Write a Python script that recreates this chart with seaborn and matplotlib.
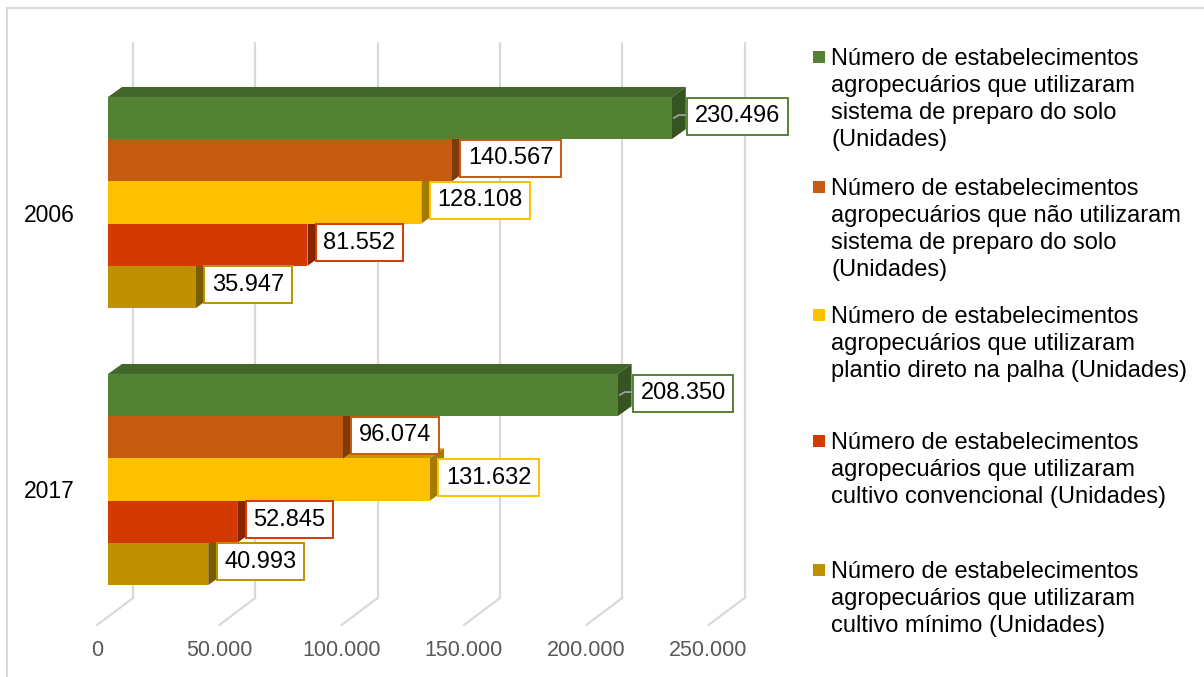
import matplotlib
matplotlib.use("Agg")
import matplotlib.pyplot as plt
import seaborn as sns
import pandas as pd
from matplotlib.transforms import ScaledTranslation
from matplotlib.patches import Polygon, Rectangle
from matplotlib.lines import Line2D
from matplotlib.colors import to_rgb

# ---------------- data ----------------
years = ["2006", "2017"]
series = [
    "Número de estabelecimentos\nagropecuários que utilizaram\nsistema de preparo do solo\n(Unidades)",
    "Número de estabelecimentos\nagropecuários que não utilizaram\nsistema de preparo do solo\n(Unidades)",
    "Número de estabelecimentos\nagropecuários que utilizaram\nplantio direto na palha (Unidades)",
    "Número de estabelecimentos\nagropecuários que utilizaram\ncultivo convencional (Unidades)",
    "Número de estabelecimentos\nagropecuários que utilizaram\ncultivo mínimo (Unidades)",
]
values_2006 = [230496, 140567, 128108, 81552, 35947]
values_2017 = [208350, 96074, 131632, 52845, 40993]
colors = ["#548235", "#C55A11", "#FFC000", "#D33A02", "#BF9000"]
xticks = [0, 50000, 100000, 150000, 200000, 250000]
xtick_labels = ["0", "50.000", "100.000", "150.000", "200.000", "250.000"]

rows = []
for s, v06, v17 in zip(series, values_2006, values_2017):
    rows.append({"Ano": years[0], "Série": s, "Valor": v06})
    rows.append({"Ano": years[1], "Série": s, "Valor": v17})
df = pd.DataFrame(rows)

# ---------------- figure ----------------
sns.set_style("white")
plt.rcParams["font.family"] = ["Liberation Sans", "DejaVu Sans"]

W, H = 1204, 677
fig = plt.figure(figsize=(W / 100, H / 100), dpi=100)
ax_l, ax_r, ax_t, ax_b = 108, 760, 43, 598
ax = fig.add_axes([ax_l / W, (H - ax_b) / H, (ax_r - ax_l) / W, (ax_b - ax_t) / H])

sns.barplot(data=df, y="Ano", x="Valor", hue="Série", order=years,
            hue_order=series, palette=colors, orient="h", width=0.762,
            saturation=1, errorbar=None, legend=False, linewidth=0, ax=ax)

px_per_unit = 122.3 / 50000
XMAX = (ax_r - ax_l) / px_per_unit
ax.set_xlim(0, XMAX)
cat_px = 277.0
ylim_top = (ax_t - 202.5) / cat_px
ylim_bot = (ax_b - 202.5) / cat_px
ax.set_ylim(ylim_bot, ylim_top)

for sp in ax.spines.values():
    sp.set_visible(False)
ax.set_xlabel("")
ax.set_ylabel("")
ax.grid(False)

# depth of the 3D effect
dx_px, dy_px = 14, 10
ddx = dx_px / px_per_unit
ddy = dy_px / cat_px
unit_per_px = 1 / px_per_unit

def shade(c, f):
    r, g, b = to_rgb(c)
    return (r * f, g * f, b * f)

bars = [p for p in ax.patches if isinstance(p, Rectangle)]
bars_sorted = sorted(bars, key=lambda p: -(p.get_y() + p.get_height() / 2))
for i, p in enumerate(bars_sorted):
    z = 2 + i * 0.1
    x0, y0, w, h = p.get_x(), p.get_y(), p.get_width(), p.get_height()
    fc = p.get_facecolor()
    p.set_zorder(z + 0.05)
    top = Polygon([(x0, y0), (x0 + w, y0), (x0 + w + ddx, y0 - ddy), (x0 + ddx, y0 - ddy)],
                  closed=True, facecolor=shade(fc, 0.78), edgecolor="none", zorder=z)
    side = Polygon([(x0 + w, y0), (x0 + w, y0 + h), (x0 + w + ddx, y0 + h - ddy),
                    (x0 + w + ddx, y0 - ddy)],
                   closed=True, facecolor=shade(fc, 0.64), edgecolor="none", zorder=z)
    ax.add_patch(top)
    ax.add_patch(side)

# data labels
green = to_rgb(colors[0])
for p in bars:
    w = p.get_width()
    yc = p.get_y() + p.get_height() / 2
    fc = p.get_facecolor()
    is_green = all(abs(a - b) < 0.01 for a, b in zip(fc[:3], green))
    off = (16 if is_green else 9) * unit_per_px
    txt = f"{int(w):,}".replace(",", ".")
    ax.text(w + off + 7 * unit_per_px, yc - 2 / cat_px, txt, ha="left", va="center",
            fontsize=17, color="black", zorder=20,
            bbox=dict(boxstyle="square,pad=0.32", facecolor="white",
                      edgecolor=fc, linewidth=1.4))
    if is_green:
        ax.plot([w + 2 * unit_per_px, w + 7 * unit_per_px, w + off],
                [yc, yc - 3 / cat_px, yc - 3 / cat_px], color="#A6A6A6", lw=1.2, zorder=19)

# gridlines on back wall and floor diagonals
grid_off = 25 / 100
gtrans = ax.get_xaxis_transform() + ScaledTranslation(grid_off, 0, fig.dpi_scale_trans)
inv = fig.transFigure.inverted()
for v in xticks:
    ax.plot([v, v], [0, 1], transform=gtrans, color="#D9D9D9", lw=1.6, zorder=0.5,
            clip_on=False)
    back = ax.transData.transform((v, ylim_bot))
    p1 = inv.transform((back[0] + 25, back[1]))
    p2 = inv.transform((back[0] - 11, back[1] - 27))
    fig.add_artist(Line2D([p1[0], p2[0]], [p1[1], p2[1]], color="#D9D9D9", lw=1.6))

ax.set_xticks(xticks, xtick_labels)
ax.tick_params(axis="x", length=0, pad=30, labelsize=15.5, labelcolor="#595959")
for lbl in ax.get_xticklabels():
    lbl.set_transform(lbl.get_transform() + ScaledTranslation(-11 / 100, 0, fig.dpi_scale_trans))
ax.tick_params(axis="y", length=0, pad=24, labelsize=16.5, labelcolor="black")
for lbl in ax.get_yticklabels():
    lbl.set_transform(lbl.get_transform() + ScaledTranslation(0, -10 / 100, fig.dpi_scale_trans))

# legend (manual, Excel-style slots)
leg_center = [57, 187, 315, 441, 570]
for s, c, yc in zip(series, colors, leg_center):
    fig.add_artist(Rectangle((813 / W, 1 - (yc + 6) / H), 12 / W, 12 / H,
                             facecolor=c, edgecolor="none", transform=fig.transFigure))
    fig.text(831 / W, 1 - (yc - 9) / H, s, ha="left", va="top", fontsize=17,
             color="black", linespacing=1.29)

# outer chart border (top and left visible)
fig.add_artist(Rectangle((7 / W, -0.05), 1.2, 1.05 - 8 / H, fill=False,
                         edgecolor="#D9D9D9", lw=1.5, transform=fig.transFigure))

fig.savefig("out.png", dpi=100)
